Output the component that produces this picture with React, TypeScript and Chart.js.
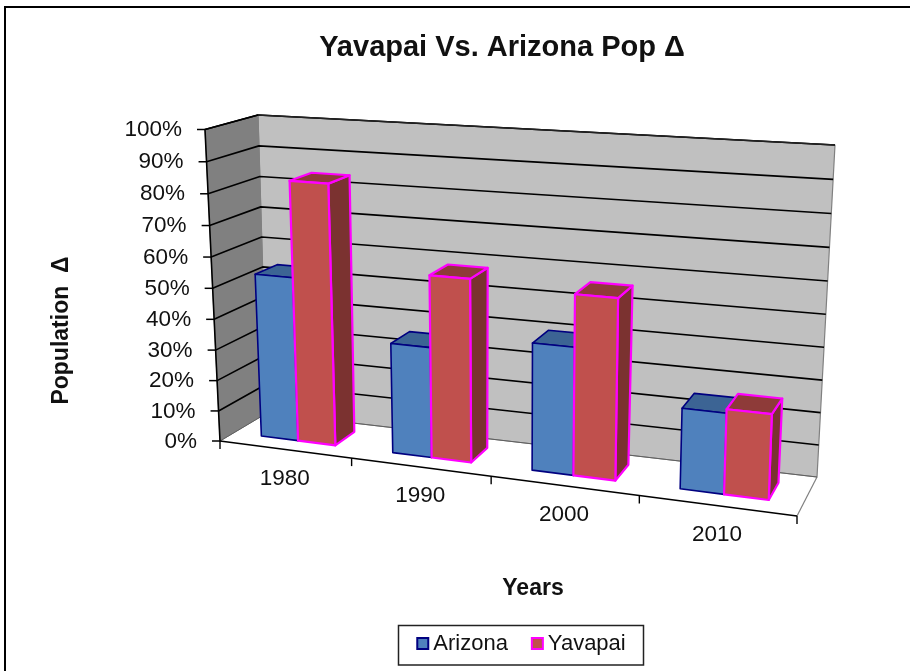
import React, { useEffect, useRef } from "react";
import { Chart, registerables } from "chart.js";

Chart.register(...registerables);

const categories = ["1980", "1990", "2000", "2010"];
const arizona = [53.3, 35.3, 40, 24.8];
const yavapai = [84, 58, 56.2, 26];
const FONT = "'Liberation Sans', Arial, sans-serif";

// The 3D box the flat chart area is projected into (front/back, left/right, bottom/top).
const BOX = {
  flb: [220, 441], flt: [205, 129.5], frb: [797, 516], frt: [809, 170],
  blb: [267, 413], blt: [258, 115], brb: [817, 477], brt: [835, 145],
};
const PERSPECTIVE_X = 1.128;
const PERSPECTIVE_Y = 1.04;
const BAR_DEPTH = [0.3, 0.75];
const SHADES = [
  { top: "#3C6494", side: "#375A86", line: 1.6 },
  { top: "#8E3B39", side: "#7B3230", line: 2.2 },
];

const mix = (a: number[], b: number[], t: number) => [a[0] + (b[0] - a[0]) * t, a[1] + (b[1] - a[1]) * t];

function project(chart: any, px: number, py: number, d: number) {
  const a = chart.chartArea;
  const u = (px - a.left) / (a.right - a.left);
  const w = (a.bottom - py) / (a.bottom - a.top);
  const t = u / (u + PERSPECTIVE_X * (1 - u));
  const v = w / (w + PERSPECTIVE_Y * (1 - w));
  const front = mix(mix(BOX.flb, BOX.frb, t), mix(BOX.flt, BOX.frt, t), v);
  const back = mix(mix(BOX.blb, BOX.brb, t), mix(BOX.blt, BOX.brt, t), v);
  return mix(front, back, d);
}

function poly(ctx: CanvasRenderingContext2D, pts: number[][], fill?: string, stroke?: string, lw = 1) {
  ctx.beginPath();
  pts.forEach((p, i) => (i ? ctx.lineTo(p[0], p[1]) : ctx.moveTo(p[0], p[1])));
  if (fill) {
    ctx.closePath();
    ctx.fillStyle = fill;
    ctx.fill();
  }
  if (stroke) {
    ctx.strokeStyle = stroke;
    ctx.lineWidth = lw;
    ctx.lineJoin = "round";
    ctx.stroke();
  }
}

const box3d = {
  id: "box3d",
  afterLayout(chart: any) {
    const shift = (b: any, dx: number) => {
      b.left += dx;
      b.right += dx;
    };
    shift(chart.titleBlock, 502 - (chart.titleBlock.left + chart.titleBlock.right) / 2);
    const lg = chart.legend;
    shift(lg, 524 - (lg.left + lg.right) / 2);
    const h = lg.bottom - lg.top;
    lg.top = 634 - h / 2;
    lg.bottom = lg.top + h;
  },
  beforeDraw(chart: any) {
    const ctx = chart.ctx;
    ctx.save();
    ctx.fillStyle = "#fff";
    ctx.fillRect(0, 0, chart.width, chart.height);
    ctx.strokeStyle = "#000";
    ctx.lineWidth = 2;
    ctx.beginPath();
    ctx.moveTo(5, 671);
    ctx.lineTo(5, 7);
    ctx.lineTo(910, 7);
    ctx.stroke();
    ctx.restore();
  },
  beforeDatasetsDraw(chart: any) {
    const ctx = chart.ctx;
    const { left, right, top, bottom } = chart.chartArea;
    const xs = chart.scales.x;
    const ys = chart.scales.y;
    const P = (x: number, y: number, d: number) => project(chart, x, y, d);
    ctx.save();
    // walls and floor
    poly(ctx, [P(left, bottom, 0), P(right, bottom, 0), P(right, bottom, 1), P(left, bottom, 1)], "#fff");
    poly(ctx, [P(right, bottom, 0), P(right, bottom, 1)], undefined, "#808080", 1.2);
    poly(ctx, [P(left, bottom, 1), P(right, bottom, 1), P(right, top, 1), P(left, top, 1)], "#C0C0C0", "#808080", 1.2);
    poly(ctx, [P(left, bottom, 0), P(left, bottom, 1), P(left, top, 1), P(left, top, 0)], "#808080", "#808080", 1);
    // gridlines, ticks and value labels
    ctx.font = `22.5px ${FONT}`;
    ctx.textAlign = "right";
    ctx.textBaseline = "middle";
    ys.ticks.forEach((tk: any) => {
      const y = ys.getPixelForValue(tk.value);
      const a = P(left, y, 0);
      if (tk.value > 0) poly(ctx, [a, P(left, y, 1), P(right, y, 1)], undefined, "#000", 1.6);
      else poly(ctx, [a, P(left, y, 1), P(right, y, 1)], undefined, "#606060", 1);
      poly(ctx, [[a[0] - 8, a[1]], a], undefined, "#000", 1.5);
      ctx.fillStyle = "#111";
      ctx.fillText(tk.label, a[0] - 23, a[1] + 0.5);
    });
    // axis frame
    poly(ctx, [P(left, top, 1), P(left, top, 0), P(left, bottom, 0), P(right, bottom, 0)], undefined, "#000", 1.6);
    poly(ctx, [P(left, top, 1), P(right, top, 1)], undefined, "#222", 1.5);
    // category ticks and labels
    const n = categories.length;
    const step = (right - left) / n;
    for (let i = 0; i <= n; i++) {
      const a = P(left + step * i, bottom, 0);
      poly(ctx, [a, [a[0], a[1] + 8]], undefined, "#000", 1.4);
    }
    ctx.textAlign = "center";
    xs.ticks.forEach((tk: any, i: number) => {
      const a = P(xs.getPixelForTick(i), bottom, 0);
      ctx.fillText(tk.label, a[0], a[1] + 29);
    });
    // bars, left to right
    for (let i = 0; i < n; i++) {
      chart.data.datasets.forEach((ds: any, k: number) => {
        const el = chart.getDatasetMeta(k).data[i];
        const l = el.x - el.width / 2;
        const r = el.x + el.width / 2;
        const [df, db] = BAR_DEPTH;
        const s = SHADES[k];
        poly(ctx, [P(r, el.base, df), P(r, el.base, db), P(r, el.y, db), P(r, el.y, df)], s.side, ds.borderColor, s.line);
        poly(ctx, [P(l, el.y, df), P(r, el.y, df), P(r, el.y, db), P(l, el.y, db)], s.top, ds.borderColor, s.line);
        poly(ctx, [P(l, el.base, df), P(r, el.base, df), P(r, el.y, df), P(l, el.y, df)], ds.backgroundColor, ds.borderColor, s.line);
      });
    }
    ctx.restore();
    return false;
  },
  afterDraw(chart: any) {
    const ctx = chart.ctx;
    const lg = chart.legend;
    ctx.save();
    ctx.strokeStyle = "#222";
    ctx.lineWidth = 1.5;
    ctx.strokeRect(398.5, 625.5, 245, 39.5);
    lg.legendHitBoxes.forEach((hb: any, i: number) => {
      const ds = chart.data.datasets[i];
      const tx = hb.left + 11;
      ctx.fillStyle = ds.backgroundColor;
      ctx.strokeStyle = ds.borderColor;
      ctx.lineWidth = 2;
      ctx.fillRect(tx - 16, 638, 11, 11);
      ctx.strokeRect(tx - 16, 638, 11, 11);
    });
    ctx.restore();
  },
};

export default function App() {
  const ref = useRef<HTMLCanvasElement>(null);
  useEffect(() => {
    document.body.style.margin = "0";
    const chart = new Chart(ref.current!, {
      type: "bar",
      data: {
        labels: categories,
        datasets: [
          { label: "Arizona", data: arizona, backgroundColor: "#4F81BD", borderColor: "#000080" },
          { label: "Yavapai", data: yavapai, backgroundColor: "#C0504D", borderColor: "#FF00FF" },
        ],
      },
      options: {
        responsive: false,
        animation: false,
        categoryPercentage: 0.57,
        barPercentage: 1,
        layout: { padding: { left: 48, right: 64, top: 0, bottom: 8 } },
        plugins: {
          title: {
            display: true,
            text: "Yavapai Vs. Arizona Pop Δ",
            color: "#111",
            font: { family: FONT, size: 29, weight: "bold" },
            padding: { top: 31, bottom: 63.2 },
          },
          legend: {
            position: "bottom",
            labels: {
              boxWidth: 0,
              padding: 29,
              color: "#111",
              font: { family: FONT, size: 22 },
            },
          },
          tooltip: { enabled: false },
        },
        scales: {
          x: {
            grid: { display: false },
            border: { display: false },
            ticks: { display: false },
            title: { display: true, text: "Years", color: "#111", font: { family: FONT, size: 23, weight: "bold" }, padding: 0 },
            afterFit: (s: any) => { s.height = 70; },
          },
          y: {
            min: 0,
            max: 100,
            grid: { display: false },
            border: { display: false },
            ticks: { display: false, stepSize: 10, callback: (v: any) => `${v}%` },
            title: { display: true, text: "Population  Δ", color: "#111", font: { family: FONT, size: 23, weight: "bold" }, padding: 0 },
            afterFit: (s: any) => { s.width = 172; },
          },
        },
      } as any,
      plugins: [box3d as any],
    });
    return () => chart.destroy();
  }, []);
  return <canvas ref={ref} width={910} height={671} style={{ display: "block", filter: "blur(0.4px)" }} />;
}
